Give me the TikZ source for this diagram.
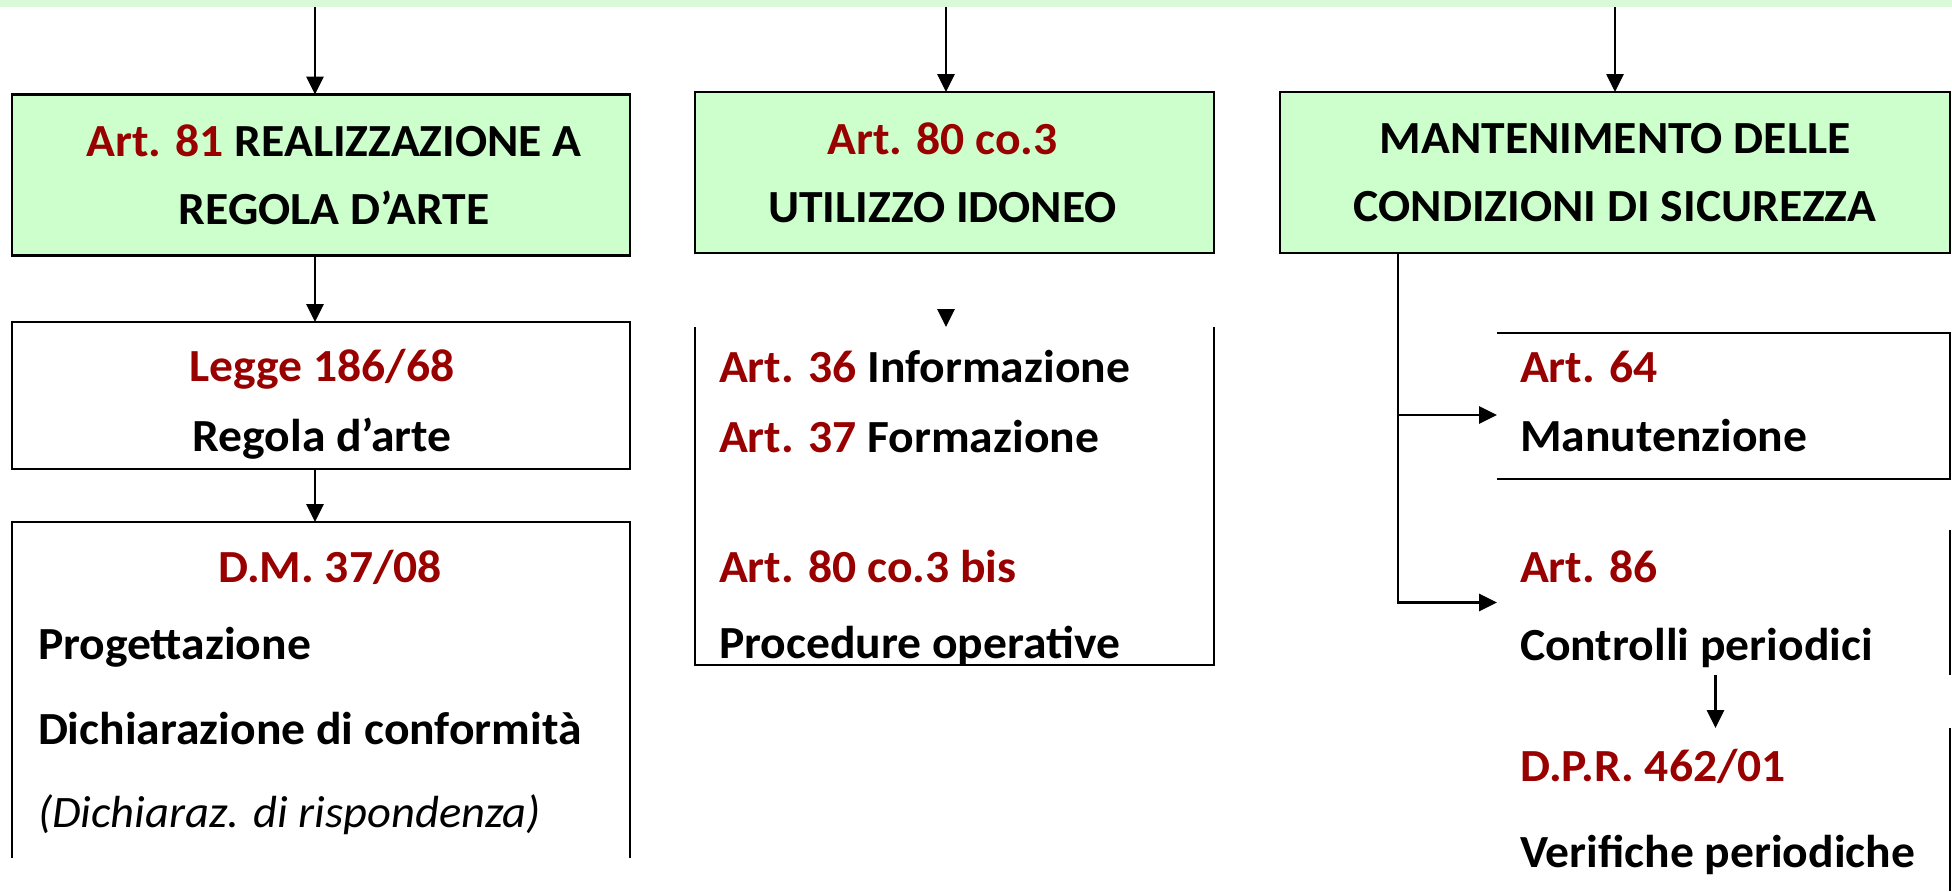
\documentclass[tikz,border=0pt]{standalone}
\usepackage{fontspec}
\setmainfont{Carlito}[FakeStretch=1.035]
\usetikzlibrary{arrows.meta}
\usetikzlibrary{positioning}

\definecolor{boxgreen}{RGB}{204,255,204}
\definecolor{bandgreen}{RGB}{216,250,216}
\definecolor{artred}{RGB}{153,0,0}
\newcommand{\rosso}[1]{\textcolor{artred}{#1}}

\begin{document}
\begin{tikzpicture}%
  [x=0.5pt, y=-0.5pt,
   >={Triangle[length=9pt,width=8.5pt]},
   line width=1.4pt,
   every node/.style={inner sep=0pt, outer sep=0pt,
                      font=\bfseries\fontsize{23}{34}\selectfont},
   green box/.style={draw, fill=boxgreen, minimum height=80.5pt},
   head/.style={align=center},
   txt/.style={anchor=base west},
   ctxt/.style={anchor=base}
  ]
\useasboundingbox (0,0) rectangle (1952,891);
\node[fill=bandgreen, minimum width=976pt, minimum height=3.5pt] (band) at (976,3.5) {};

% three headings
\node[green box, minimum width=309pt]   (realiz)   at (321,175)     {};
\node[green box, minimum width=259.5pt] (utilizzo) at (954.5,172.5) {};
\node[green box, minimum width=335pt]   (manten)   at (1615,172.5)  {};
\node[head] (realiz-t)   at ([xshift=6.5pt]realiz.center) {\rosso{Art. 81} REALIZZAZIONE A\\REGOLA D’ARTE};
\node[head] (utilizzo-t) at ([xshift=-6pt]utilizzo.center) {\rosso{Art. 80 co.3}\\UTILIZZO IDONEO};
\node[head] (manten-t)   at (manten.center) {MANTENIMENTO DELLE\\CONDIZIONI DI SICUREZZA};

% frames below
\node[draw, minimum width=309pt, minimum height=73.5pt] (legge) at (321,395.5)  {};
\node[minimum width=309pt,   minimum height=168pt]      (dm)    at (321,690)    {};
\node[minimum width=259.5pt, minimum height=169pt]      (uso)   at (954.5,496)  {};
\node[minimum width=226.5pt, minimum height=73pt]       (art64) at (1723.5,406) {};
\node[minimum width=226.5pt, minimum height=72.5pt]     (art86) at (1723.5,602.5) {};
\node[minimum width=226.5pt, minimum height=81.5pt]     (dpr)   at (1723.5,809.5) {};

\draw (dm.south west) -- (dm.north west) -- (dm.north east) -- (dm.south east);
\draw (uso.north west) -- (uso.south west) -- (uso.south east) -- (uso.north east);
\draw (art64.north west) -- (art64.north east) -- (art64.south east) -- (art64.south west);
\draw (art86.north east) -- (art86.south east);
\draw (dpr.north east) -- (dpr.south east);

% texts
\node[ctxt] (legge1) at (322,381) {\rosso{Legge 186/68}};
\node[ctxt] (legge2) [below=35pt of legge1.base, anchor=base] {Regola d’arte};
\node[ctxt] (dm1) at (330,582) {\rosso{D.M. 37/08}};
\node[txt]  (dm2) at (38,659) {Progettazione};
\node[txt]  (dm3) [below=42.5pt of dm2.base west, anchor=base west] {Dichiarazione di conformità};
\node[txt, font=\itshape\fontsize{22.5}{34}\selectfont]
            (dm4) [below=41.5pt of dm3.base west, anchor=base west] {(Dichiaraz. di rispondenza)};

\node[txt] (uso1) at (719,382) {\rosso{Art. 36} Informazione};
\node[txt] (uso2) [below=35pt of uso1.base west, anchor=base west] {\rosso{Art. 37} Formazione};
\node[txt] (uso3) at (719,582) {\rosso{Art. 80 co.3 bis}};
\node[txt] (uso4) [below=38pt of uso3.base west, anchor=base west] {Procedure operative};

\node[txt] (m1) at (1520,382) {\rosso{Art. 64}};
\node[txt] (m2) [below=34.5pt of m1.base west, anchor=base west] {Manutenzione};
\node[txt] (m3) at (1520,582) {\rosso{Art. 86}};
\node[txt] (m4) [below=39pt of m3.base west, anchor=base west] {Controlli periodici};
\node[txt] (m5) at (1520,781) {\rosso{D.P.R. 462/01}};
\node[txt] (m6) [below=43pt of m5.base west, anchor=base west] {Verifiche periodiche};

% connectors
\coordinate (split) at ([xshift=59pt]manten.south west);
\draw[->] ([xshift=-3pt]realiz.north |- band.south)   -- ([xshift=-3pt]realiz.north);
\draw[->] ([xshift=-4.25pt]utilizzo.north |- band.south) -- ([xshift=-4.25pt]utilizzo.north);
\draw[->] (manten.north |- band.south)                -- (manten.north);
\draw[->] ([xshift=-3pt]realiz.south) -- ([xshift=-3pt]legge.north);
\draw[->] ([xshift=-3pt]legge.south)  -- ([xshift=-3pt]dm.north);
\draw[->, shorten <=28pt] ([xshift=-4.25pt]utilizzo.south) -- ([xshift=-4.25pt]uso.north);
\draw[->] (split) |- ([yshift=-4.5pt]art64.west);
\draw[->] (split) |- (art86.west);
\draw[->] ([xshift=-4pt]art86.south) -- ([xshift=-4pt]dpr.north);
\end{tikzpicture}
\end{document}
